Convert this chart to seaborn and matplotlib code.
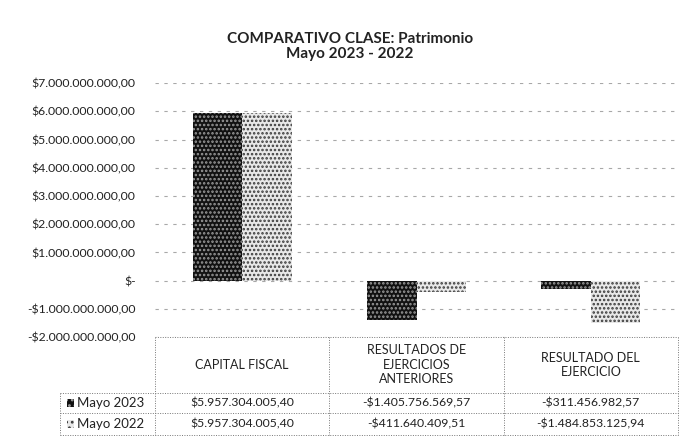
import numpy as np
import pandas as pd
import matplotlib.pyplot as plt
import seaborn as sns
from matplotlib.patches import Rectangle

categorias = ['CAPITAL FISCAL', 'RESULTADOS DE\nEJERCICIOS\nANTERIORES', 'RESULTADO DEL\nEJERCICIO']
periodos = ['Mayo 2023', 'Mayo 2022']
mayo_2023 = [5957304005.40, -1405756569.57, -311456982.57]
mayo_2022 = [5957304005.40, -411640409.51, -1484853125.94]
ticks = [7e9, 6e9, 5e9, 4e9, 3e9, 2e9, 1e9, 0, -1e9, -2e9]

def fmt(v):
    if v == 0:
        return '$-'
    s = '{:,.2f}'.format(abs(v)).replace(',', 'X').replace('.', ',').replace('X', '.')
    return ('-$' if v < 0 else '$') + s

df = pd.DataFrame({
    'categoria': categorias * 2,
    'periodo': [periodos[0]] * 3 + [periodos[1]] * 3,
    'valor': mayo_2023 + mayo_2022,
})

sns.set_style('white')
plt.rcParams['font.family'] = ['Lato', 'DejaVu Sans']
plt.rcParams['hatch.linewidth'] = 1.2

fig = plt.figure(figsize=(6.89, 4.40), dpi=100)
ax = fig.add_axes([0.225, 0.234, 0.759, 0.577])

caras = {'Mayo 2023': ('#111111', '#9a9a9a'), 'Mayo 2022': ('#e8e8e8', '#3a3a3a')}
sns.barplot(data=df, x='categoria', y='valor', hue='periodo', order=categorias,
            hue_order=periodos, width=0.57, palette=['#111111', '#e8e8e8'],
            legend=False, ax=ax, saturation=1)
for cont, p in zip(ax.containers, periodos):
    fc, hc = caras[p]
    for bar in cont:
        bar.set_facecolor(fc)
        bar.set_edgecolor(hc)
        bar.set_hatch('....')
        bar.set_linewidth(0)

ax.set_ylim(-2e9, 7e9)
ax.set_xlim(-0.5, 2.5)
ax.set_yticks(ticks)
ax.set_yticklabels([fmt(t) for t in ticks], fontsize=8.8, color='#222222')
ax.tick_params(axis='y', length=0, pad=14)
ax.set_xticks([])
ax.set_xlabel('')
ax.set_ylabel('')
for t in ticks:
    ax.axhline(t, color='#a8a8a8', lw=0.8, ls=(0, (3, 5)), zorder=0)
for s in ax.spines.values():
    s.set_visible(False)

fig.text(0.508, 0.912, 'COMPARATIVO CLASE: Patrimonio', ha='center', va='center',
         fontsize=11, fontweight='bold', color='#222222')
fig.text(0.508, 0.877, 'Mayo 2023 - 2022', ha='center', va='center',
         fontsize=11, fontweight='bold', color='#222222')

# tabla de datos bajo el grafico
xt = ax.get_xaxis_transform()
linea = dict(color='#777777', lw=0.7, ls=(0, (1, 1.5)), clip_on=False, transform=ax.transAxes)
y_top, y_head, y_mid, y_bot = 0.0, -0.22, -0.30, -0.386
x_leg = -0.182
ax.plot([0, 1], [y_top, y_top], **linea)
for y in (y_head, y_mid, y_bot):
    ax.plot([x_leg, 1], [y, y], **linea)
for x in (0, 1 / 3, 2 / 3, 1):
    ax.plot([x, x], [y_top, y_bot], **linea)
ax.plot([x_leg, x_leg], [y_head, y_bot], **linea)

for i, c in enumerate(categorias):
    ax.text(i, -0.11, c, transform=xt, ha='center', va='center', fontsize=9,
            color='#222222', linespacing=1.25)
    ax.text(i, -0.26, fmt(mayo_2023[i]), transform=xt, ha='center', va='center',
            fontsize=8.8, color='#222222')
    ax.text(i, -0.343, fmt(mayo_2022[i]), transform=xt, ha='center', va='center',
            fontsize=8.8, color='#222222')

for y, p in zip((-0.26, -0.343), periodos):
    fc, hc = caras[p]
    ax.add_patch(Rectangle((-0.168, y - 0.016), 0.013, 0.032, transform=ax.transAxes,
                           facecolor=fc, edgecolor=hc, hatch='...', lw=0, clip_on=False))
    ax.text(-0.15, y, p, transform=ax.transAxes, ha='left', va='center',
            fontsize=9.5, color='#222222')

fig.savefig('out.png', dpi=100)
